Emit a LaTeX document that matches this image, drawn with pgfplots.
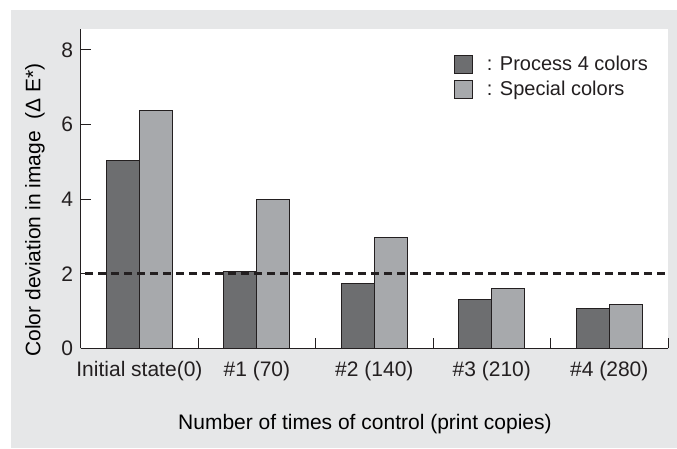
\documentclass[border=0pt]{standalone}
\usepackage{fontspec}
\setmainfont{Liberation Sans}
\usepackage{pgfplots}
\pgfplotsset{compat=1.18}
\definecolor{bg}{HTML}{E6E7E8}
\definecolor{darkbar}{HTML}{6D6E70}
\definecolor{lightbar}{HTML}{A7A9AC}
\definecolor{ink}{HTML}{231F20}
\begin{document}
\begin{tikzpicture}[x=1pt,y=1pt]
\useasboundingbox (0,0) rectangle (677,449);
\fill[bg] (11,1) rectangle (677,439);
\begin{axis}[
  at={(80.7pt,100.7pt)}, anchor=south west,
  scale only axis, width=587.3pt, height=319pt,
  xmin=-0.5, xmax=4.5, ymin=0, ymax=8.55,
  axis background/.style={fill=white},
  axis x line*=bottom, axis y line*=left,
  axis line style={ink, line width=1pt},
  font=\fontsize{21}{25}\selectfont,
  /pgf/number format/assume math mode=true,
  ticklabel style={font=\fontsize{21}{25}\selectfont, text=ink},
  label style={font=\fontsize{21}{25}\selectfont, text=ink},
  ytick={0,2,4,6,8},
  tick align=inside,
  major tick length=10pt,
  tick style={ink, line width=0.8pt},
  xtick={0.5,1.5,2.5,3.5,4.5}, xticklabels={},
  extra x ticks={0,1,2,3,4},
  extra x tick labels={Initial state(0),\#1 (70),\#2 (140),\#3 (210),\#4 (280)},
  extra x tick style={major tick length=0pt},
  xticklabel style={yshift=-9pt},
  yticklabel style={xshift=-4pt},
  xlabel={Number of times of control (print copies)},
  ylabel={Color deviation in image\ \ (Δ E*)},
  every axis x label/.style={at={(axis description cs:0.484,-0.237)}, anchor=center},
  every axis y label/.style={at={(axis description cs:-0.078,0.4335)}, rotate=90, anchor=center},
  legend style={at={(rel axis cs:0.6356,0.9226)}, anchor=north west, draw=none, fill=none,
    font=\fontsize{20}{24}\selectfont, text=ink, inner sep=0pt, row sep=5pt},
  legend cell align=left,
]
\addplot[ybar, bar width=33pt, bar shift=-16.5pt, fill=darkbar, draw=ink, line width=0.8pt,
  legend image code/.code={\draw[fill=darkbar, draw=ink, line width=0.8pt] (0pt,-8.8pt) rectangle (18pt,8.8pt);}]
  coordinates {(0,5.04) (1,2.05) (2,1.73) (3,1.30) (4,1.07)};
\addlegendentry{\hspace*{12pt}: Process 4 colors}
\addplot[ybar, bar width=33pt, bar shift=16.5pt, fill=lightbar, draw=ink, line width=0.8pt,
  legend image code/.code={\draw[fill=lightbar, draw=ink, line width=0.8pt] (0pt,-8.8pt) rectangle (18pt,8.8pt);}]
  coordinates {(0,6.38) (1,4.00) (2,2.96) (3,1.61) (4,1.18)};
\addlegendentry{\hspace*{12pt}: Special colors}
\addplot[sharp plot, forget plot, ink, line width=2.8pt, dash pattern=on 8pt off 5pt]
  coordinates {(-0.463,2) (4.5,2)};
\end{axis}
\end{tikzpicture}
\end{document}
